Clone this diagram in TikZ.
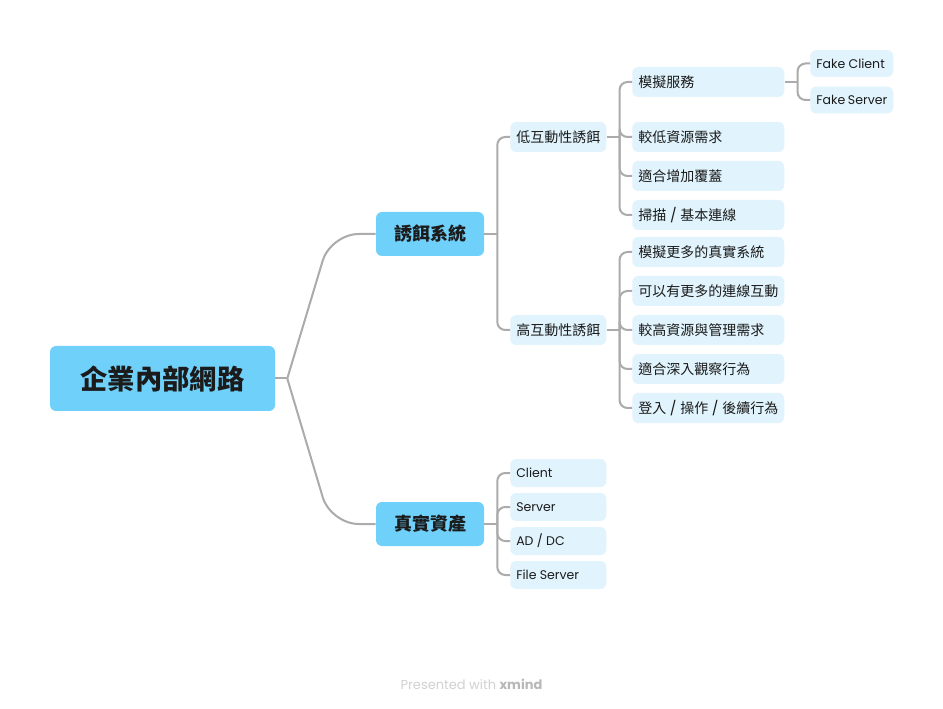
\documentclass[tikz,border=0pt]{standalone}
\usepackage{fontspec}
\setmainfont{Poppins}
\newfontfamily\cjk{Noto Sans CJK TC}
\newcommand\slashsep{{\normalfont\ /\ }}
\usetikzlibrary{calc}

\begin{document}
\begin{tikzpicture}[x=0.75pt,y=-0.75pt,
  topic/.style={rounded corners=4.5pt,fill=sky,text=ink,inner sep=0pt,align=center},
  sub/.style={rounded corners=4.5pt,fill=mist,text=ink,inner xsep=4.5pt,inner ysep=0pt,
    anchor=west,font=\cjk\fontsize{10.5}{12}\selectfont,
    execute at begin node={\hbox to #1\bgroup},execute at end node={\hfil\egroup}},
  sub/.default=105pt,
  latin/.style={font=\fontsize{9.4}{11}\selectfont},
  link/.style={draw=wire,line width=1.5pt}]
  \definecolor{ink}{HTML}{1B1B1B}
  \definecolor{sky}{HTML}{6FD0FA}
  \definecolor{mist}{HTML}{E1F4FD}
  \definecolor{wire}{HTML}{ABABAB}
  \useasboundingbox (0,0) rectangle (943,709);
  \fill[white] (0,0) rectangle (943,709);
  % Central topic and the two main branches.
  \node[topic,minimum width=168.75pt,minimum height=48.75pt,font=\cjk\bfseries\fontsize{20.5}{24}\selectfont] (root) at (162.5,378.5) {企業內部網路};
  \node[topic,minimum width=81pt,minimum height=33pt,font=\cjk\bfseries\fontsize{13.5}{16}\selectfont] (decoy) at (430,234) {誘餌系統};
  \node[topic,minimum width=81pt,minimum height=33pt,font=\cjk\bfseries\fontsize{13.5}{16}\selectfont] (real) at (430,524) {真實資產};
  % Decoy kinds.
  \node[sub=63pt,minimum height=22.5pt] (low) at (510,137) {低互動性誘餌};
  \node[sub=63pt,minimum height=22.5pt] (high) at (510,330) {高互動性誘餌};
  % Low interaction details.
  \node[sub,minimum height=22.5pt] (lowA) at (632,82) {模擬服務};
  \node[sub,minimum height=22.5pt] (lowB) at (632,137) {較低資源需求};
  \node[sub,minimum height=22.5pt] (lowC) at (632,176) {適合增加覆蓋};
  \node[sub,minimum height=22.5pt] (lowD) at (632,215) {掃描\slashsep 基本連線};
  \node[sub=53.25pt,latin,minimum height=20pt] (fakeC) at (810,63.5) {Fake Client};
  \node[sub=53.25pt,latin,minimum height=20pt] (fakeS) at (810,100) {Fake Server};
  % High interaction details.
  \node[sub,minimum height=22.5pt] (highA) at (632,252) {模擬更多的真實系統};
  \node[sub,minimum height=22.5pt] (highB) at (632,291) {可以有更多的連線互動};
  \node[sub,minimum height=22.5pt] (highC) at (632,330) {較高資源與管理需求};
  \node[sub,minimum height=22.5pt] (highD) at (632,369) {適合深入觀察行為};
  \node[sub,minimum height=22.5pt] (highE) at (632,408) {登入\slashsep 操作\slashsep 後續行為};
  % Real assets.
  \node[sub=63pt,latin,minimum height=21pt] (client) at (510,473) {Client};
  \node[sub=63pt,latin,minimum height=21pt] (server) at (510,507) {Server};
  \node[sub=63pt,latin,minimum height=21pt] (addc) at (510,541) {AD / DC};
  \node[sub=63pt,latin,minimum height=21pt] (files) at (510,575) {File Server};
  % Curved links out of the central topic.
  \draw[link] (root.east) -- ++(12,0) coordinate (rootJ);
  \draw[link,rounded corners=21pt] (rootJ) -- ($(decoy.west)+(-45,0)$) -- (decoy.west);
  \draw[link,rounded corners=21pt] (rootJ) -- ($(real.west)+(-45,0)$) -- (real.west);
  % Elbow links, one stub per parent and one bend per child.
  \draw[link] (decoy.east) -- ++(13,0) coordinate (decoyJ);
  \foreach \n in {low,high} \draw[link,rounded corners=6pt] (decoyJ) |- (\n.west);
  \draw[link] (low.east) -- ++(13,0) coordinate (lowJ);
  \foreach \n in {lowA,lowB,lowC,lowD} \draw[link,rounded corners=6pt] (lowJ) |- (\n.west);
  \draw[link] (lowA.east) -- ++(13,0) coordinate (mockJ);
  \foreach \n in {fakeC,fakeS} \draw[link,rounded corners=6pt] (mockJ) |- (\n.west);
  \draw[link] (high.east) -- ++(13,0) coordinate (highJ);
  \foreach \n in {highA,highB,highC,highD,highE} \draw[link,rounded corners=6pt] (highJ) |- (\n.west);
  \draw[link] (real.east) -- ++(13,0) coordinate (realJ);
  \foreach \n in {client,server,addc,files} \draw[link,rounded corners=6pt] (realJ) |- (\n.west);
  % Footer credit.
  \node[text=black!18,font=\fontsize{9.75}{12}\selectfont] (credit) at (471.5,684) {Presented with \textcolor{black!28}{\textbf{xmind}}};
\end{tikzpicture}
\end{document}
